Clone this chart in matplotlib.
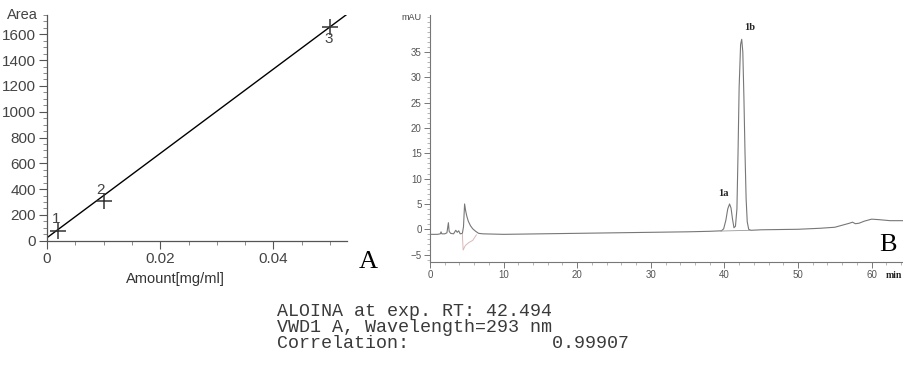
import numpy as np
import matplotlib.pyplot as plt
from matplotlib.ticker import MultipleLocator

# calibration curve (panel A)
amount = [0.002, 0.010, 0.050]
area = [75, 310, 1660]
point_labels = ['1', '2', '3']
fit_x = [0.0, 0.053]
fit_y = [23, 1756]

# chromatogram (panel B)
rt = [0.0, 1.0, 1.4, 1.5, 1.6, 2.0, 2.3, 2.5, 2.6, 2.8, 3.2, 3.5, 3.7, 3.9, 4.1, 4.4,
      4.55, 4.7, 4.85, 5.0, 5.2, 5.5, 5.8, 6.2, 6.6, 7.2, 10, 15, 20, 25, 30, 35,
      38, 39.6, 39.9, 40.2, 40.45, 40.7, 40.9, 41.1, 41.3, 41.5, 41.7, 41.85, 42.0,
      42.2, 42.35, 42.5, 42.65, 42.8, 42.95, 43.1, 43.3, 43.6, 45, 50, 53, 55, 56,
      57.0, 57.4, 57.8, 58.3, 59, 60, 61, 62.5, 64.5]
mau = [-1.0, -1.0, -0.9, -0.5, -0.9, -0.9, -0.7, 1.3, -0.4, -0.8, -0.9, -0.2, -0.6, -0.3, -0.9, -0.8,
       0.5, 5.0, 3.6, 2.6, 1.6, 0.7, 0.1, -0.4, -0.8, -0.9, -1.0, -0.9, -0.8, -0.7, -0.6, -0.5,
       -0.4, -0.3, 0.1, 1.8, 4.0, 5.0, 4.2, 2.0, 0.3, 0.6, 4.0, 15, 28,
       36.5, 37.5, 35, 26, 15, 6, 1.5, 0.0, -0.2, -0.1, 0.0, 0.2, 0.4, 0.8,
       1.2, 1.4, 1.1, 1.2, 1.6, 2.0, 1.9, 1.7, 1.7]
dip_rt = [4.4, 4.5, 4.8, 5.3, 5.8, 6.3]
dip_mau = [-1.0, -4.1, -3.2, -2.6, -2.2, -1.1]

text_lines = ['ALOINA at exp. RT: 42.494',
              'VWD1 A, Wavelength=293 nm',
              'Correlation:             0.99907']

W, H = 904, 368
fig = plt.figure(figsize=(W / 100, H / 100), dpi=100)

def box(l, t, r, b):
    return [l / W, 1 - b / H, (r - l) / W, (b - t) / H]

sans = ['Liberation Sans', 'DejaVu Sans']
serif = ['Liberation Serif', 'DejaVu Serif']
mono = ['Liberation Mono', 'DejaVu Sans Mono']

# ---- panel A
ax = fig.add_axes(box(47, 15, 347, 240.7))
ax.plot(fit_x, fit_y, color='black', lw=1)
ax.plot(amount, area, ls='none', marker='+', ms=11, mew=1.1, color='#333333')
offs = [(-0.0003, 95), (-0.0005, 80), (-0.0002, -95)]
for x, y, lab, (dx, dy) in zip(amount, area, point_labels, offs):
    ax.text(x + dx, y + dy, lab, ha='center', va='center', fontsize=11,
            color='#444444', family=sans)
ax.set_xlim(0, 0.053)
ax.set_ylim(0, 1750)
ax.xaxis.set_major_locator(MultipleLocator(0.02))
ax.xaxis.set_minor_locator(MultipleLocator(0.005))
ax.yaxis.set_major_locator(MultipleLocator(200))
ax.yaxis.set_minor_locator(MultipleLocator(50))
ax.xaxis.set_major_formatter(plt.FuncFormatter(lambda v, p: '0' if v == 0 else f'{v:g}'))
for s in ['top', 'right']:
    ax.spines[s].set_visible(False)
for s in ['left', 'bottom']:
    ax.spines[s].set_color('#555555')
    ax.spines[s].set_linewidth(0.9)
ax.tick_params(which='major', length=6, width=0.8, color='#555555',
               labelsize=11, labelcolor='#444444', pad=2)
ax.tick_params(which='minor', length=3, width=0.6, color='#777777')
for lab in ax.get_xticklabels() + ax.get_yticklabels():
    lab.set_family(sans)
ax.text(-0.03, 1.0, 'Area', transform=ax.transAxes, ha='right', va='center',
        fontsize=10.5, color='#444444', family=sans)
fig.text(175 / W, 1 - 279 / H, 'Amount[mg/ml]', ha='center', va='center',
         fontsize=10.5, color='#333333', family=sans)
fig.text(368 / W, 1 - 262 / H, 'A', ha='center', va='center', fontsize=19,
         color='black', family=serif)

# ---- panel B
bx = fig.add_axes(box(430, 15, 904, 261.7))
bx.plot(rt, mau, color='#777777', lw=0.8)
bx.plot(dip_rt, dip_mau, color='#d8b8b8', lw=0.7)
bx.plot([39.5, 43.5], [-0.35, -0.2], color='#999999', lw=0.6)
bx.set_xlim(0, 64.4)
bx.set_ylim(-6.4, 42.3)
bx.xaxis.set_major_locator(MultipleLocator(10))
bx.xaxis.set_minor_locator(MultipleLocator(2))
bx.yaxis.set_minor_locator(MultipleLocator(1))
bx.set_yticks([-5, 0, 5, 10, 15, 20, 25, 30, 35])
for s in ['top', 'right']:
    bx.spines[s].set_visible(False)
for s in ['left', 'bottom']:
    bx.spines[s].set_color('#777777')
    bx.spines[s].set_linewidth(0.8)
bx.tick_params(which='major', length=4, width=0.7, color='#777777',
               labelsize=7, labelcolor='#555555', pad=2)
bx.tick_params(which='minor', length=2, width=0.5, color='#999999')
for lab in bx.get_xticklabels() + bx.get_yticklabels():
    lab.set_family(sans)
fig.text(411 / W, 1 - 18 / H, 'mAU', ha='center', va='center', fontsize=6.5,
         color='#444444', family=sans)
fig.text(750 / W, 1 - 27 / H, '1b', ha='center', va='center', fontsize=7.5,
         weight='bold', color='#222222', family=serif)
fig.text(723 / W, 1 - 193 / H, '1a', ha='center', va='center', fontsize=7.5,
         weight='bold', color='#222222', family=serif)
fig.text(888 / W, 1 - 245 / H, 'B', ha='center', va='center', fontsize=19,
         color='black', family=serif)
fig.text(902 / W, 1 - 276 / H, 'min', ha='right', va='center', fontsize=7,
         weight='bold', color='#222222', family=serif)

# ---- text block
for i, line in enumerate(text_lines):
    fig.text(277 / W, 1 - (311 + 16.5 * i) / H, line, ha='left', va='center',
             fontsize=13.2, color='#3a3a3a', family=mono)

fig.savefig('out.png', dpi=100)
